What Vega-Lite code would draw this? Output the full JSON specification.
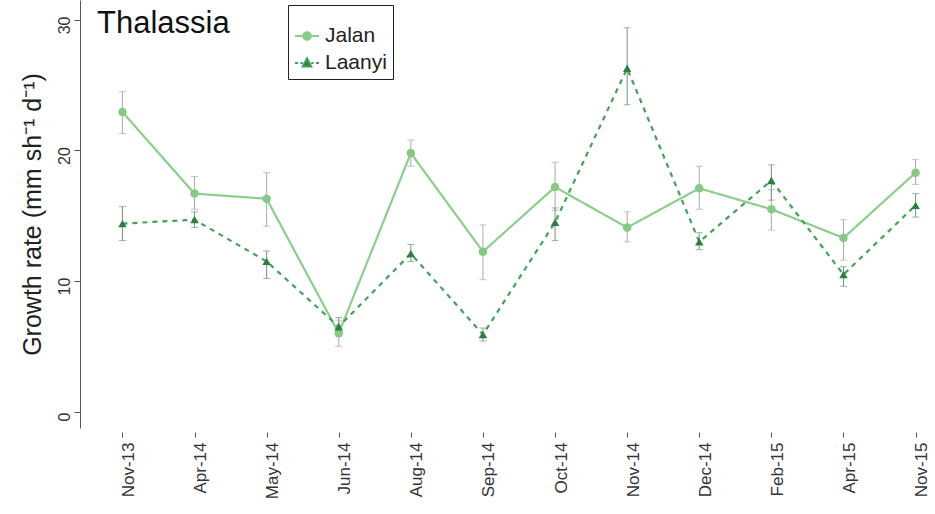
{
  "$schema": "https://vega.github.io/schema/vega-lite/v6.json",
  "autosize": {"type": "none"},
  "padding": {"left": 108, "top": 0, "right": 5, "bottom": 86},
  "width": 822,
  "height": 428,
  "background": "white",
  "config": {"view": {"stroke": null}, "font": "Liberation Sans"},
  "title": {"text": "Thalassia", "anchor": "start", "frame": "group", "fontSize": 31, "fontWeight": "normal", "color": "#111", "baseline": "top", "dx": -11, "dy": 40, "offset": 0},
  "data": {"values": [
    {"m": "Nov-13", "site": "Jalan", "v": 22.95, "lo": 21.3, "hi": 24.5},
    {"m": "Apr-14", "site": "Jalan", "v": 16.7, "lo": 15.5, "hi": 18.0},
    {"m": "May-14", "site": "Jalan", "v": 16.3, "lo": 14.2, "hi": 18.3},
    {"m": "Jun-14", "site": "Jalan", "v": 6.0, "lo": 5.0, "hi": 7.0},
    {"m": "Aug-14", "site": "Jalan", "v": 19.8, "lo": 18.8, "hi": 20.8},
    {"m": "Sep-14", "site": "Jalan", "v": 12.25, "lo": 10.1, "hi": 14.3},
    {"m": "Oct-14", "site": "Jalan", "v": 17.2, "lo": 15.4, "hi": 19.1},
    {"m": "Nov-14", "site": "Jalan", "v": 14.1, "lo": 13.0, "hi": 15.3},
    {"m": "Dec-14", "site": "Jalan", "v": 17.1, "lo": 15.5, "hi": 18.8},
    {"m": "Feb-15", "site": "Jalan", "v": 15.5, "lo": 13.9, "hi": 17.0},
    {"m": "Apr-15", "site": "Jalan", "v": 13.3, "lo": 11.6, "hi": 14.7},
    {"m": "Nov-15", "site": "Jalan", "v": 18.3, "lo": 17.4, "hi": 19.3},
    {"m": "Nov-13", "site": "Laanyi", "v": 14.4, "lo": 13.1, "hi": 15.7},
    {"m": "Apr-14", "site": "Laanyi", "v": 14.7, "lo": 14.1, "hi": 15.3},
    {"m": "May-14", "site": "Laanyi", "v": 11.5, "lo": 10.2, "hi": 12.3},
    {"m": "Jun-14", "site": "Laanyi", "v": 6.5, "lo": 5.8, "hi": 7.2},
    {"m": "Aug-14", "site": "Laanyi", "v": 12.1, "lo": 11.5, "hi": 12.8},
    {"m": "Sep-14", "site": "Laanyi", "v": 5.9, "lo": 5.4, "hi": 6.4},
    {"m": "Oct-14", "site": "Laanyi", "v": 14.5, "lo": 13.1, "hi": 15.6},
    {"m": "Nov-14", "site": "Laanyi", "v": 26.3, "lo": 23.5, "hi": 29.4},
    {"m": "Dec-14", "site": "Laanyi", "v": 13.0, "lo": 12.4, "hi": 13.7},
    {"m": "Feb-15", "site": "Laanyi", "v": 17.7, "lo": 16.2, "hi": 18.9},
    {"m": "Apr-15", "site": "Laanyi", "v": 10.5, "lo": 9.6, "hi": 11.1},
    {"m": "Nov-15", "site": "Laanyi", "v": 15.8, "lo": 14.9, "hi": 16.7}
  ]},
  "encoding": {
    "x": {
      "field": "m", "type": "ordinal",
      "sort": ["Nov-13", "Apr-14", "May-14", "Jun-14", "Aug-14", "Sep-14", "Oct-14", "Nov-14", "Dec-14", "Feb-15", "Apr-15", "Nov-15"],
      "scale": {"type": "point", "padding": 0.2},
      "axis": {"title": null, "domain": false, "grid": false, "offset": 4, "tickSize": 5, "tickColor": "#555", "labelAngle": -90, "labelAlign": "right", "labelBaseline": "middle", "labelPadding": 5, "labelOffset": 6, "labelFontSize": 17, "labelColor": "#333"}
    }
  },
  "layer": [
    {
      "mark": {"type": "rule", "strokeWidth": 1},
      "encoding": {
        "y": {"field": "lo", "type": "quantitative", "title": "Growth rate (mm sh⁻¹  d⁻¹)",
          "scale": {"domain": [-1.26, 31.53], "nice": false, "zero": false},
          "axis": {"values": [0, 10, 20, 30], "offset": 28, "grid": false, "domainColor": "#555", "tickColor": "#555", "tickSize": 6, "labelAngle": -90, "labelAlign": "center", "labelBaseline": "bottom", "labelPadding": 2, "labelOffset": 5, "labelFontSize": 16, "labelColor": "#333", "titleFontSize": 25, "titleFontWeight": "normal", "titleColor": "#222", "titlePadding": 11}},
        "y2": {"field": "hi"},
        "color": {"field": "site", "type": "nominal", "scale": {"domain": ["Laanyi", "Jalan"], "range": ["#76957c", "#a3ada3"]}, "legend": null}
      }
    },
    {
      "mark": {"type": "tick", "size": 7, "thickness": 1},
      "encoding": {
        "y": {"field": "lo", "type": "quantitative", "title": "Growth rate (mm sh⁻¹  d⁻¹)"},
        "color": {"field": "site", "type": "nominal", "legend": null}
      }
    },
    {
      "mark": {"type": "tick", "size": 7, "thickness": 1},
      "encoding": {
        "y": {"field": "hi", "type": "quantitative", "title": "Growth rate (mm sh⁻¹  d⁻¹)"},
        "color": {"field": "site", "type": "nominal", "legend": null}
      }
    },
    {
      "mark": {"type": "line", "strokeWidth": 2.2},
      "encoding": {
        "y": {"field": "v", "type": "quantitative", "title": "Growth rate (mm sh⁻¹  d⁻¹)"},
        "stroke": {"field": "site", "type": "nominal", "scale": {"domain": ["Jalan", "Laanyi"], "range": ["#8dce8d", "#45a05b"]},
          "legend": {"orient": "none", "legendX": 180, "legendY": 5, "title": " ", "titleFontSize": 9, "titlePadding": 3, "padding": 6, "strokeColor": "#222", "fillColor": "white", "labelFontSize": 21, "labelColor": "#222", "symbolSize": 576, "labelOffset": 5, "rowPadding": 4,
            "encode": {"symbols": {"update": {
              "shape": [{"test": "datum.value === 'Jalan'", "value": "M-1,0L1,0M0.32,0A0.32,0.32,0,1,1,-0.32,0A0.32,0.32,0,1,1,0.32,0Z"}, {"value": "M-1,0L-0.75,0M-0.55,0L-0.35,0M0.35,0L0.55,0M0.75,0L1,0M0,-0.38L0.36,0.3L-0.36,0.3Z"}],
              "fill": [{"test": "datum.value === 'Jalan'", "value": "#86c986"}, {"value": "#2e7d44"}],
              "stroke": [{"test": "datum.value === 'Jalan'", "value": "#8dce8d"}, {"value": "#45a05b"}],
              "strokeWidth": {"value": 2},
              "strokeDash": {"value": [1, 0]},
              "opacity": {"value": 1}
            }}}}},
        "strokeDash": {"field": "site", "type": "nominal", "scale": {"domain": ["Laanyi", "Jalan"], "range": [[5, 5], [1, 0]]}, "legend": null}
      }
    },
    {
      "mark": {"type": "point", "filled": true, "opacity": 1, "size": 72, "strokeWidth": 0},
      "encoding": {
        "y": {"field": "v", "type": "quantitative", "title": "Growth rate (mm sh⁻¹  d⁻¹)"},
        "fill": {"field": "site", "type": "nominal", "scale": {"domain": ["Laanyi", "Jalan"], "range": ["#2e7d44", "#86c986"]}, "legend": null},
        "shape": {"field": "site", "type": "nominal", "scale": {"domain": ["Laanyi", "Jalan"], "range": ["triangle-up", "circle"]}, "legend": null}
      }
    }
  ]
}
